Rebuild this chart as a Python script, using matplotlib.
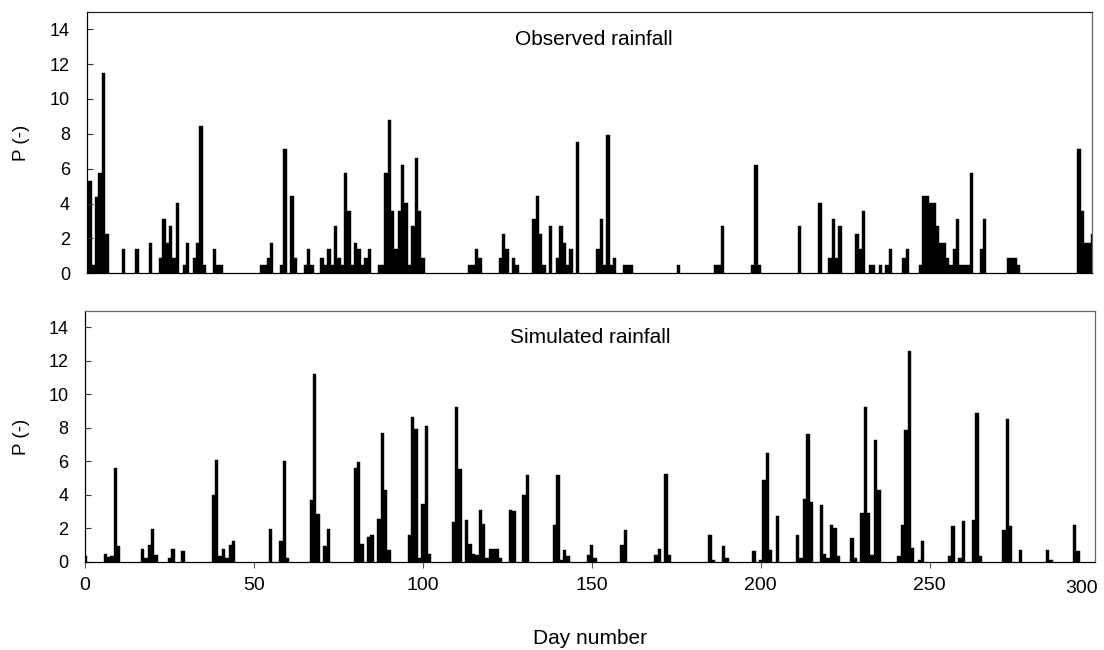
import matplotlib.pyplot as plt

plt.rcParams['font.family'] = ['Liberation Sans', 'DejaVu Sans']

# observed rainfall: day number and P (-)
obs_days = [0, 1, 2, 3, 4, 5, 6, 11, 15, 19, 22, 23, 24, 25, 26, 27, 29, 30, 32, 33,
            34, 35, 38, 39, 40, 52, 53, 54, 55, 58, 59, 61, 62, 65, 66, 67, 70, 71, 72, 73,
            74, 75, 76, 77, 78, 79, 80, 81, 82, 83, 84, 87, 88, 89, 90, 91, 92, 93, 94, 95,
            96, 97, 98, 99, 100, 114, 115, 116, 117, 123, 124, 125, 127, 128, 133, 134, 135, 136, 138, 140,
            141, 142, 143, 144, 146, 152, 153, 154, 155, 156, 157, 160, 161, 162, 176, 187, 188, 189, 198, 199,
            200, 212, 218, 221, 222, 223, 224, 229, 230, 231, 233, 234, 236, 238, 239, 243, 244, 248, 249, 250,
            251, 252, 253, 254, 255, 256, 257, 258, 259, 260, 261, 262, 263, 266, 267, 274, 275, 276, 277, 295,
            296, 297, 298, 299]
obs_p = [4.4, 5.3, 0.5, 4.4, 5.75, 11.5, 2.25, 1.4, 1.4, 1.75, 0.9, 3.1, 1.75, 2.7, 0.9, 4.05, 0.5, 1.75, 0.9, 1.75,
         8.45, 0.5, 1.4, 0.5, 0.5, 0.5, 0.5, 0.9, 1.75, 0.5, 7.1, 4.45, 0.9, 0.5, 1.4, 0.5, 0.9, 0.5, 1.4, 0.5,
         2.7, 0.9, 0.5, 5.75, 3.6, 0.5, 1.75, 1.4, 0.5, 0.9, 1.4, 0.5, 0.5, 5.75, 8.8, 3.6, 1.4, 3.6, 6.2, 4.05,
         0.5, 2.7, 6.6, 3.6, 0.9, 0.5, 0.5, 1.4, 0.9, 0.9, 2.25, 1.4, 0.9, 0.5, 3.1, 4.45, 2.25, 0.5, 2.7, 0.9,
         2.7, 1.75, 0.5, 1.4, 7.55, 1.4, 3.1, 0.5, 7.95, 0.5, 0.9, 0.5, 0.5, 0.5, 0.5, 0.5, 0.5, 2.7, 0.5, 6.2,
         0.5, 2.7, 4.05, 0.9, 3.1, 0.9, 2.7, 2.25, 1.4, 3.6, 0.5, 0.5, 0.5, 0.5, 1.4, 0.9, 1.4, 0.5, 4.45, 4.45,
         4.05, 4.05, 2.7, 1.75, 1.75, 0.9, 0.5, 1.4, 3.1, 0.5, 0.5, 0.5, 5.75, 1.4, 3.1, 0.9, 0.9, 0.9, 0.5, 7.1,
         3.6, 1.75, 1.75, 2.25]

# simulated rainfall
sim_days = [0, 6, 7, 8, 9, 10, 17, 18, 19, 20, 21, 25, 26, 29, 38, 39, 40, 41, 42, 43,
            44, 55, 58, 59, 60, 67, 68, 69, 71, 72, 80, 81, 82, 84, 85, 87, 88, 89, 90, 96,
            97, 98, 99, 100, 101, 102, 109, 110, 111, 113, 114, 115, 116, 117, 118, 119, 120, 121, 122, 123,
            126, 127, 130, 131, 139, 140, 141, 142, 143, 149, 150, 151, 159, 160, 169, 170, 172, 173, 185, 186,
            189, 190, 198, 200, 201, 202, 203, 205, 211, 212, 213, 214, 215, 218, 219, 220, 221, 222, 223, 227,
            228, 230, 231, 232, 233, 234, 235, 241, 242, 243, 244, 245, 247, 248, 256, 257, 259, 260, 263, 264,
            265, 272, 273, 274, 277, 285, 286, 293, 294]
sim_p = [0.32, 0.48, 0.28, 0.32, 5.63, 0.92, 0.78, 0.24, 1.02, 1.98, 0.42, 0.24, 0.78, 0.62, 3.97, 6.07, 0.32, 0.78, 0.24, 1.02,
         1.22, 1.98, 1.22, 5.99, 0.24, 3.67, 11.2, 2.87, 0.92, 1.98, 5.63, 5.97, 1.08, 1.48, 1.62, 2.57, 7.72, 4.27, 0.72, 1.62,
         8.62, 7.92, 0.24, 3.47, 8.12, 0.48, 2.37, 9.22, 5.57, 2.51, 1.08, 0.48, 0.42, 3.07, 2.28, 0.24, 0.78, 0.78, 0.78, 0.24,
         3.11, 3.01, 3.97, 5.17, 2.18, 5.17, 0.12, 0.72, 0.32, 0.42, 1.02, 0.24, 1.02, 1.88, 0.42, 0.78, 5.27, 0.42, 1.62, 0.12,
         0.92, 0.24, 0.62, 0.12, 4.87, 6.47, 0.72, 2.71, 1.62, 0.24, 3.77, 7.66, 3.57, 3.37, 0.48, 0.24, 2.18, 2.02, 0.32, 1.42,
         0.24, 2.91, 9.26, 2.91, 0.42, 7.27, 4.27, 0.32, 2.18, 7.86, 12.6, 0.82, 0.12, 1.22, 0.32, 2.12, 0.24, 2.42, 2.51, 8.86,
         0.32, 1.88, 8.52, 2.12, 0.72, 0.72, 0.12, 2.18, 0.62]

x_ticks = [0, 50, 100, 150, 200, 250]
y_ticks = [0, 2, 4, 6, 8, 10, 12, 14]

fig = plt.figure(figsize=(11.04, 6.5), dpi=100)
ax1 = fig.add_axes([0.0785, 0.5795, 0.9109, 0.4025])
ax2 = fig.add_axes([0.0770, 0.1358, 0.9149, 0.3862])

for ax, days, p in ((ax1, obs_days, obs_p), (ax2, sim_days, sim_p)):
    ax.bar(days, p, width=1.0, color='black', edgecolor='black', linewidth=0.3)
    ax.set_xlim(0, 299)
    ax.set_ylim(0, 15)
    ax.set_yticks(y_ticks)
    ax.tick_params(axis='y', direction='in', length=4.5, width=0.8, pad=12,
                   labelsize=13, color='#333333')
    for side in ('left', 'bottom'):
        ax.spines[side].set_color('black')
        ax.spines[side].set_linewidth(0.9)
    for side in ('top', 'right'):
        ax.spines[side].set_color('#666666')
        ax.spines[side].set_linewidth(0.9)

ax1.spines['top'].set_color('#222222')
ax1.set_xticks([])

ax2.set_xticks(x_ticks)
ax2.tick_params(axis='x', direction='out', length=4, width=0.8, pad=7,
                labelsize=14, color='#555555')
# Excel pulled the last label inside the plot edge
ax2.text(1.003, -0.107, '300', transform=ax2.transAxes, ha='right', va='center', fontsize=14)

ax1.text(0.504, 0.892, 'Observed rainfall', transform=ax1.transAxes,
         ha='center', va='center', fontsize=15)
ax2.text(0.500, 0.894, 'Simulated rainfall', transform=ax2.transAxes,
         ha='center', va='center', fontsize=15)

fig.text(21.7 / 1104, 1 - 142.5 / 650, 'P (-)', rotation=90, ha='center', va='center', fontsize=13.5)
fig.text(21.7 / 1104, 1 - 436.5 / 650, 'P (-)', rotation=90, ha='center', va='center', fontsize=13.5)
fig.text(589.9 / 1104, 1 - 638 / 650, 'Day number', ha='center', va='center', fontsize=15)

fig.savefig('out.png', dpi=100)
plt.close(fig)
